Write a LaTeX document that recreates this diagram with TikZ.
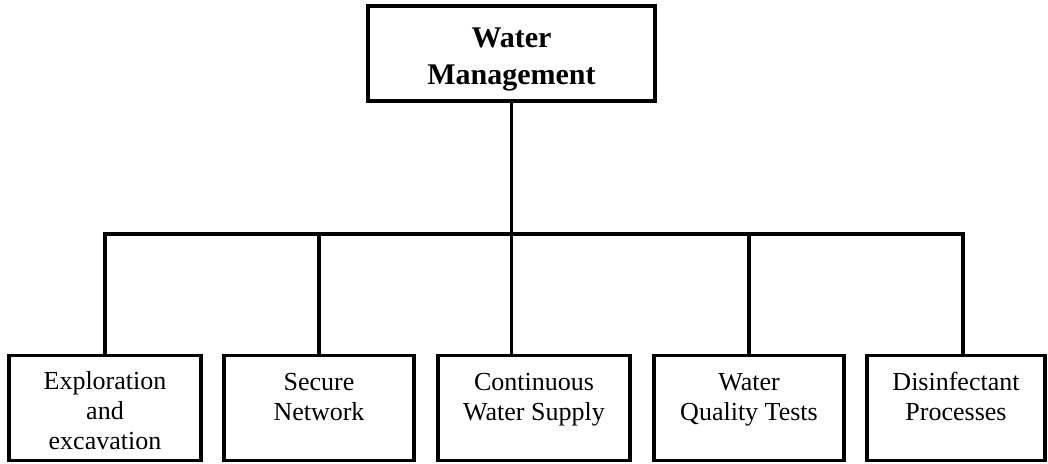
\documentclass[tikz,border=0pt]{standalone}
\usepackage{fontspec}
\setmainfont{Liberation Serif}
\usepackage{tikz}
\usetikzlibrary{positioning}

% extra room above the first line of a box
\newcommand{\topgap}[1]{\rule{0pt}{#1}}

\tikzset{
  box/.style={draw, line width=3.2pt, inner sep=0pt, align=center},
  headbox/.style={box, minimum width=287pt, minimum height=95pt,
    font=\fontsize{30}{37}\selectfont\bfseries},
  subbox/.style={box, minimum height=105pt,
    font=\fontsize{26}{30}\selectfont},
  conn/.style={line width=3.2pt}
}

\begin{document}
\begin{tikzpicture}[x=1pt, y=-1pt]
\useasboundingbox (0,0) rectangle (1048,463);
% --- head ---
\node[headbox] (wm) at (511.5,53.5) {\topgap{32pt}Water\\Management};
% --- branches ---
\node[subbox, minimum width=192pt] (expl) at (105,408) {\topgap{24pt}Exploration\\and\\excavation};
\node[subbox, minimum width=190pt] (net) at (319,408) {\topgap{24pt}Secure\\Network\\\mbox{}};
\node[subbox, minimum width=192pt] (supply) at (534,408) {\topgap{24pt}Continuous\\Water Supply\\\mbox{}};
\node[subbox, minimum width=190pt] (tests) at (749,408) {\topgap{24pt}Water\\Quality Tests\\\mbox{}};
\node[subbox, minimum width=178pt] (disinf) at (956,408) {\topgap{24pt}Disinfectant\\Processes\\\mbox{}};
% --- connectors ---
\coordinate (bus) at (0,234);
\coordinate (disinf top) at ([xshift=7pt]disinf.north);
\draw[conn] (wm.south) -- (wm.south |- supply.north);
\draw[conn] (expl.north) |- (disinf top |- bus) -- (disinf top);
\foreach \b in {net,tests}
  \draw[conn] (\b.north) -- (\b.north |- bus);
\end{tikzpicture}
\end{document}
